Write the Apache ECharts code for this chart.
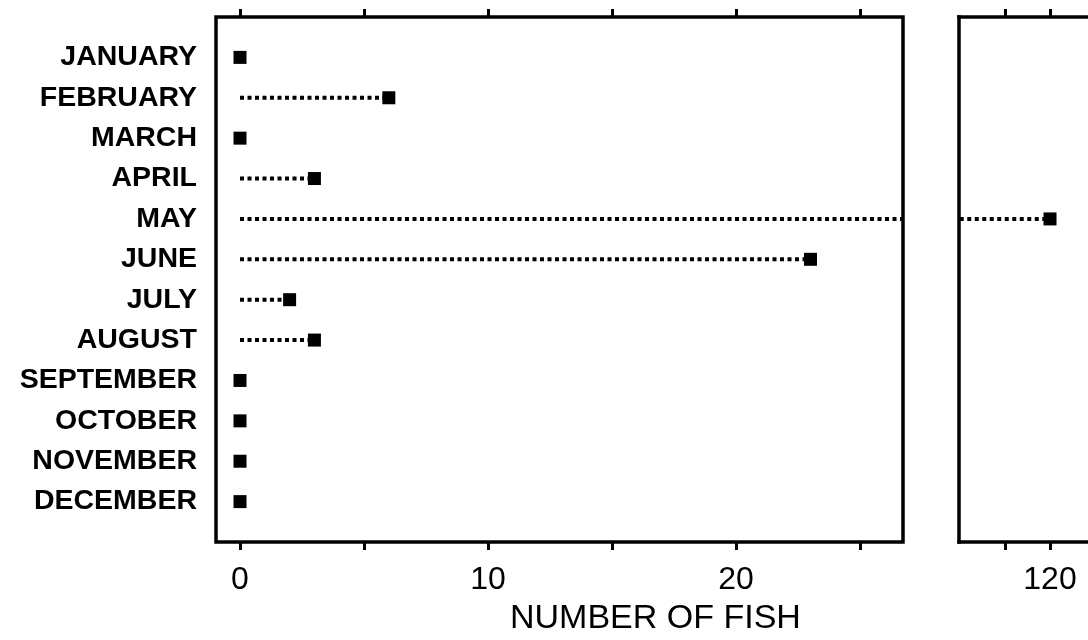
<!DOCTYPE html>
<html>
<head>
<meta charset="utf-8">
<script src="https://cdn.jsdelivr.net/npm/echarts@6/dist/echarts.min.js"></script>
<style>
html,body{margin:0;padding:0;background:#fff;}
#chart{width:1088px;height:640px;}
</style>
</head>
<body>
<div id="chart"></div>
<script>
const months = ['JANUARY','FEBRUARY','MARCH','APRIL','MAY','JUNE','JULY','AUGUST','SEPTEMBER','OCTOBER','NOVEMBER','DECEMBER'];
const fish = [0, 6, 0, 3, 120, 23, 2, 3, 0, 0, 0, 0];
const leftTicks = [0, 5, 10, 15, 20, 25];
const leftTickLabels = [0, 10, 20];
const rightTicks = [115, 120];
const rightTickLabels = [120];
const axisTitle = 'NUMBER OF FISH';

const FONT = '"Liberation Sans", Arial, Helvetica, sans-serif';
const leftMin = -0.968, leftMax = 26.73;
const rightMin = 109.89, rightMax = 124.22;

const chart = echarts.init(document.getElementById('chart'));

function xAxisDef(gridIndex, pos, min, max, ticks, labels, showLine) {
  return {
    type: 'value', gridIndex: gridIndex, position: pos, min: min, max: max,
    axisLine: {show: !!showLine, onZero: false, lineStyle: {color: '#000', width: 3.5, cap: 'square'}},
    splitLine: {show: false},
    axisTick: {show: true, inside: false, length: 8, customValues: ticks,
      lineStyle: {color: '#000', width: 3}},
    axisLabel: {show: pos === 'bottom', customValues: labels, margin: 22,
      color: '#000', fontSize: 32, fontFamily: FONT}
  };
}

const dotted = {color: '#000', width: 4, type: [4, 3.5], cap: 'butt'};
const series = [];
fish.forEach(function (v, i) {
  const y = i + 1;
  if (v > 0) {
    series.push({type: 'line', xAxisIndex: 0, yAxisIndex: 0, data: [[0, y], [v, y]],
      symbol: 'none', lineStyle: dotted, clip: true, silent: true, z: 2});
    if (v > rightMin) {
      series.push({type: 'line', xAxisIndex: 2, yAxisIndex: 1, data: [[0, y], [v, y]],
        symbol: 'none', lineStyle: dotted, clip: true, silent: true, z: 2});
    }
  }
});
series.push({type: 'scatter', xAxisIndex: 0, yAxisIndex: 0, symbol: 'rect', symbolSize: 13,
  itemStyle: {color: '#000', opacity: 1}, z: 3,
  data: fish.map(function (v, i) { return [v, i + 1]; }).filter(function (d) { return d[0] <= leftMax; })});
series.push({type: 'scatter', xAxisIndex: 2, yAxisIndex: 1, symbol: 'rect', symbolSize: 13,
  itemStyle: {color: '#000', opacity: 1}, z: 3,
  data: fish.map(function (v, i) { return [v, i + 1]; }).filter(function (d) { return d[0] >= rightMin; })});

chart.setOption({
  animation: false,
  backgroundColor: '#fff',
  title: {text: axisTitle, left: 505, top: 597,
    textStyle: {color: '#000', fontSize: 34, fontWeight: 'normal', fontFamily: FONT}},
  grid: [
    {left: 216, top: 17, width: 687, height: 525, show: true, borderColor: '#000', borderWidth: 3.5, backgroundColor: 'transparent'},
    {left: 959, top: 17, right: 0, height: 525, show: false}
  ],
  xAxis: [
    xAxisDef(0, 'bottom', leftMin, leftMax, leftTicks, leftTickLabels, false),
    xAxisDef(0, 'top', leftMin, leftMax, leftTicks, [], false),
    xAxisDef(1, 'bottom', rightMin, rightMax, rightTicks, rightTickLabels, true),
    xAxisDef(1, 'top', rightMin, rightMax, rightTicks, [], true)
  ],
  yAxis: [
    {type: 'value', gridIndex: 0, inverse: true, min: 0, max: 13,
      axisLine: {show: false}, axisTick: {show: false}, splitLine: {show: false},
      axisLabel: {show: true, customValues: months.map(function (m, i) { return i + 1; }),
        formatter: function (v) { return months[v - 1] || ''; },
        margin: 19, color: '#000', fontSize: 28.5, fontWeight: 'bold', fontFamily: FONT}},
    {type: 'value', gridIndex: 1, inverse: true, min: 0, max: 13, position: 'left',
      axisLine: {show: true, onZero: false, lineStyle: {color: '#000', width: 3.5, cap: 'square'}},
      axisTick: {show: false}, splitLine: {show: false},
      axisLabel: {show: false}}
  ],
  series: series
});
</script>
</body>
</html>
